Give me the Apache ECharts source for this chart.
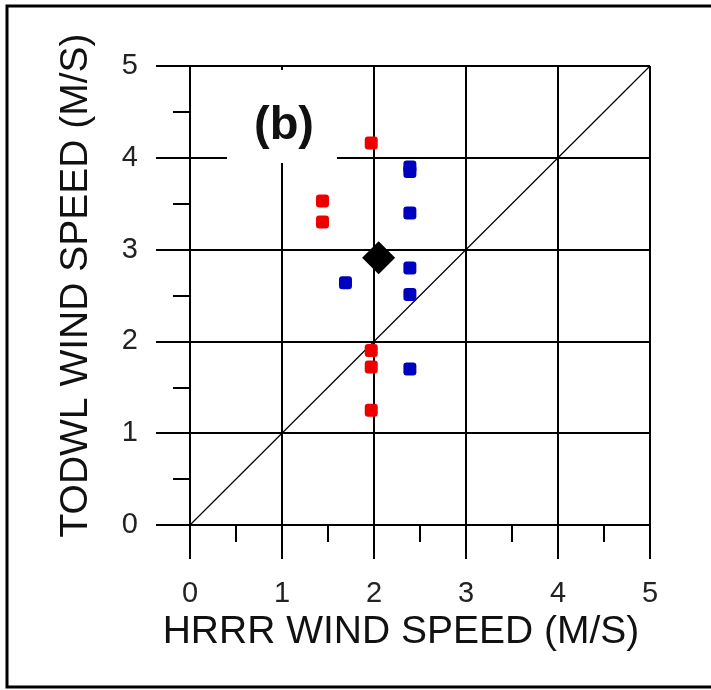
<!DOCTYPE html>
<html>
<head>
<meta charset="utf-8">
<script src="https://cdn.jsdelivr.net/npm/echarts@6/dist/echarts.min.js"></script>
<style>
    html, body { margin: 0; padding: 0; background: #fff; }
    #main { width: 711px; height: 690px; }
</style>
</head>
<body>
<div id="main"></div>
<script>
    // 红点 (HRRR, TODWL)
    var redX = [1.97, 1.44, 1.44, 1.97, 1.97, 1.97];
    var redY = [4.16, 3.53, 3.30, 1.90, 1.72, 1.25];
    // 蓝点
    var blueX = [2.39, 2.39, 2.39, 2.39, 2.39, 1.69, 2.39];
    var blueY = [3.90, 3.85, 3.40, 2.80, 2.51, 2.64, 1.70];
    // 平均值
    var meanPoint = [2.05, 2.91];
    // 1:1 线
    var diagonal = [[0, 0], [5, 5]];
    var tickLabels = ['0', '1', '2', '3', '4', '5'];

    function pairs(xs, ys) {
        var out = [];
        for (var i = 0; i < xs.length; i++) {
            out.push([xs[i], ys[i]]);
        }
        return out;
    }

    var black = '#000';
    var font = 'Liberation Sans, Arial, sans-serif';

    function axis(nameGap, labelMargin, name, padding) {
        return {
            type: 'value',
            min: 0,
            max: 5,
            interval: 1,
            name: name,
            nameLocation: 'middle',
            nameGap: nameGap,
            nameTextStyle: {
                fontFamily: font,
                fontSize: 39,
                color: '#111',
                verticalAlign: 'middle',
                padding: padding
            },
            axisLine: { show: true, lineStyle: { color: black, width: 2 } },
            axisTick: { show: true, length: 34, lineStyle: { color: black, width: 2 } },
            minorTick: { show: true, splitNumber: 2, length: 17, lineStyle: { color: black, width: 2 } },
            splitLine: { show: true, lineStyle: { color: black, width: 2 } },
            axisLabel: {
                margin: labelMargin,
                fontFamily: font,
                fontSize: 29,
                color: '#222',
                formatter: function (v) {
                    return tickLabels[Math.round(v)];
                }
            }
        };
    }

    var chart = echarts.init(document.getElementById('main'));
    var option = {
        backgroundColor: '#fff',
        animation: false,
        grid: { left: 190, right: 61, top: 66, bottom: 165 },
        xAxis: axis(102, 54, 'HRRR WIND SPEED (M/S)', [0, 38, 0, 0]),
        yAxis: axis(114, 52, 'TODWL WIND SPEED (M/S)', [0, 0, 0, 20]),
        graphic: [
            // 外框
            {
                type: 'rect',
                shape: { x: 7, y: 6, width: 720, height: 681 },
                style: { fill: null, stroke: black, lineWidth: 3 },
                z: 100
            },
            // (b) 标签
            {
                type: 'rect',
                shape: { x: 227, y: 70, width: 110, height: 93 },
                style: { fill: '#fff' },
                z: 50
            },
            {
                type: 'text',
                x: 284,
                y: 126,
                style: {
                    text: '(b)',
                    font: 'bold 47px ' + font,
                    fill: '#111',
                    textAlign: 'center',
                    textVerticalAlign: 'middle'
                },
                z: 51
            }
        ],
        series: [
            {
                type: 'line',
                data: diagonal,
                symbol: 'none',
                silent: true,
                lineStyle: { color: black, width: 1.2 },
                z: 1
            },
            {
                type: 'scatter',
                data: pairs(redX, redY),
                symbol: 'roundRect',
                symbolSize: 13,
                itemStyle: { color: '#ee0000', opacity: 1 },
                z: 3
            },
            {
                type: 'scatter',
                data: pairs(blueX, blueY),
                symbol: 'roundRect',
                symbolSize: 13,
                itemStyle: { color: '#0000c0', opacity: 1 },
                z: 3
            },
            {
                type: 'scatter',
                data: [meanPoint],
                symbol: 'diamond',
                symbolSize: 33,
                itemStyle: { color: black, opacity: 1 },
                z: 4
            }
        ]
    };
    chart.setOption(option);
</script>
</body>
</html>
